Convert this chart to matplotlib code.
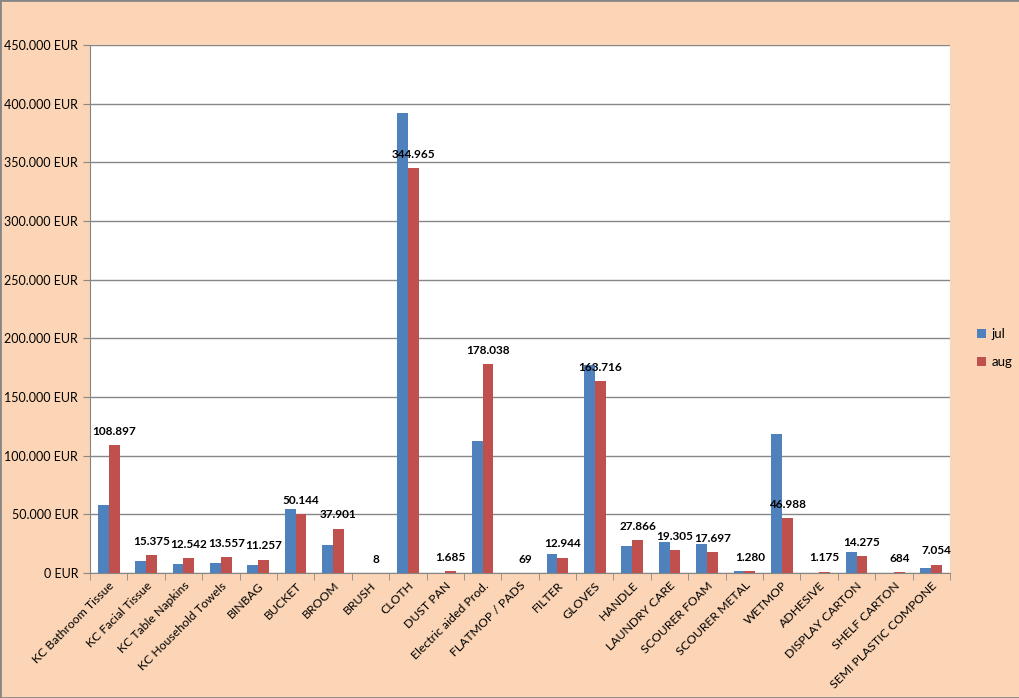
import numpy as np
import matplotlib
matplotlib.use("Agg")
import matplotlib.pyplot as plt
from matplotlib.ticker import FuncFormatter, FixedLocator

plt.rcParams['font.family'] = ['Lato', 'DejaVu Sans']

categories = ["KC Bathroom Tissue", "KC Facial Tissue", "KC Table Napkins",
              "KC Household Towels", "BINBAG", "BUCKET", "BROOM", "BRUSH",
              "CLOTH", "DUST PAN", "Electric aided Prod.", "FLATMOP / PADS",
              "FILTER", "GLOVES", "HANDLE", "LAUNDRY CARE", "SCOURER FOAM",
              "SCOURER METAL", "WETMOP", "ADHESIVE", "DISPLAY CARTON",
              "SHELF CARTON", "SEMI PLASTIC COMPONE"]
jul = [58000, 10200, 7900, 8800, 6800, 54500, 23900, 0,
       392000, 300, 112500, 0,
       16200, 177300, 23000, 26400, 24700,
       1300, 118500, 0, 17900,
       0, 4300]
aug = [108897, 15375, 12542, 13557, 11257, 50144, 37901, 8,
       344965, 1685, 178038, 69,
       12944, 163716, 27866, 19305, 17697,
       1280, 46988, 1175, 14275,
       684, 7054]

bg = "#FBD5B5"
blue = "#4F81BD"
red = "#C0504D"
grey = "#868686"

fig = plt.figure(figsize=(10.2, 6.98), dpi=100, facecolor=bg)
ax = fig.add_axes([90 / 1020, 1 - 573 / 698, 860 / 1020, 528 / 698])
ax.set_facecolor("white")

x = np.arange(len(categories))
w = 0.29
ax.bar(x - w / 2, jul, w, color=blue, label="jul", zorder=3)
ax.bar(x + w / 2, aug, w, color=red, label="aug", zorder=3)

for xi, v in zip(x, aug):
    lbl = f"{v:,}".replace(",", ".")
    ax.annotate(lbl, (xi + w / 2, v), xytext=(0, 6), textcoords="offset points",
                ha="center", va="bottom", fontsize=8.5, fontweight="bold", zorder=4)

ax.set_xlim(-0.5, len(categories) - 0.5)
ax.set_ylim(0, 450000)
ax.set_yticks(np.arange(0, 450001, 50000))
ax.yaxis.set_major_formatter(FuncFormatter(lambda v, p: f"{int(v):,} EUR".replace(",", ".")))
ax.grid(axis="y", color=grey, linewidth=1, zorder=0)

ax.set_xticks(x)
ax.set_xticklabels(categories, rotation=45, ha="right", rotation_mode="anchor", fontsize=8.8)
ax.xaxis.set_minor_locator(FixedLocator(np.arange(-0.5, len(categories), 1)))
ax.tick_params(axis="x", which="major", length=0, pad=5)
ax.tick_params(axis="x", which="minor", length=5, color=grey)
ax.tick_params(axis="y", length=5, color=grey, labelsize=9)

for side in ["top", "right"]:
    ax.spines[side].set_visible(False)
for side in ["left", "bottom"]:
    ax.spines[side].set_color(grey)

fig.legend(loc="center left", bbox_to_anchor=(965 / 1020, 1 - 348 / 698),
           frameon=False, fontsize=9.5, handlelength=0.7, handleheight=0.7,
           labelspacing=1.2, handletextpad=0.4)

fig.patches.append(plt.Rectangle((0, 0), 1, 1, transform=fig.transFigure,
                                 fill=False, edgecolor=grey, linewidth=2))

fig.savefig("out.png", dpi=100, facecolor=bg)
